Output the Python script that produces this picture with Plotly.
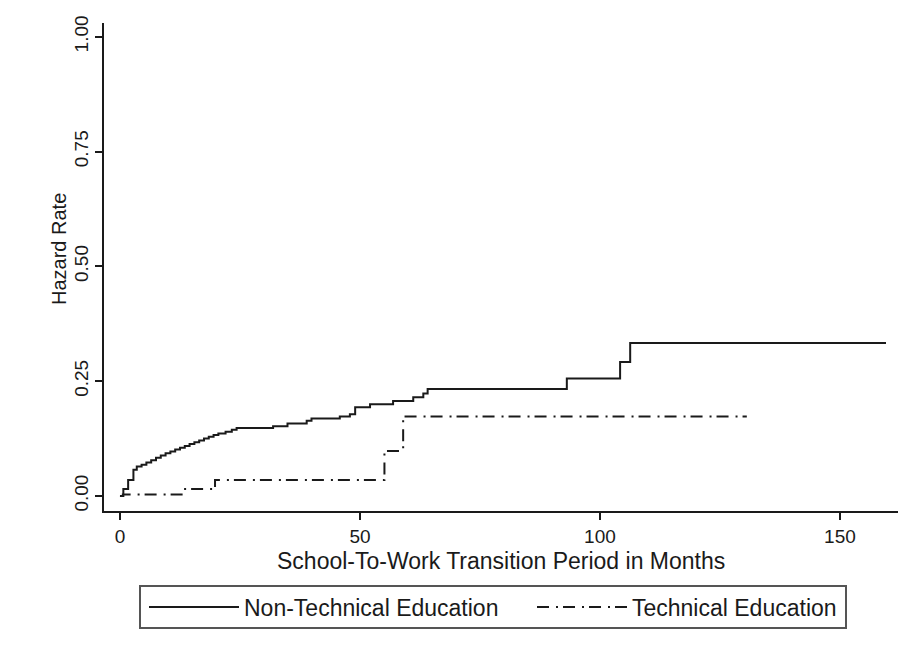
import plotly.graph_objects as go

# Step-function hazard estimates (months, cumulative hazard rate)
nontech_months = [0, 0.7, 1.7, 2.8, 3.5, 4.5, 5.5, 6.5, 7.5, 8.5, 9.5, 10.5, 11.5,
                  12.5, 13.5, 14.5, 15.5, 16.5, 17.5, 18.5, 19.5, 20.5, 22.0, 23.3,
                  24.3, 31.9, 34.9, 38.9, 39.9, 45.8, 47.9, 49.0, 52.1, 56.9, 61.1,
                  63.2, 64.1, 93.1, 104.2, 106.3, 159.6]
nontech_hazard = [0.000, 0.015, 0.035, 0.057, 0.064, 0.068, 0.073, 0.078, 0.083,
                  0.088, 0.093, 0.097, 0.101, 0.105, 0.109, 0.113, 0.117, 0.121,
                  0.125, 0.129, 0.133, 0.136, 0.140, 0.144, 0.148, 0.152, 0.158,
                  0.164, 0.169, 0.173, 0.178, 0.193, 0.200, 0.207, 0.215, 0.223,
                  0.233, 0.256, 0.292, 0.333, 0.333]

tech_months = [0, 0.6, 13.1, 19.8, 55.1, 59.0, 130.6]
tech_hazard = [0.000, 0.003, 0.015, 0.035, 0.098, 0.173, 0.173]

x_ticks = [0, 50, 100, 150]
y_ticks = [0.00, 0.25, 0.50, 0.75, 1.00]
y_tick_text = ["0.00", "0.25", "0.50", "0.75", "1.00"]
x_title = "School-To-Work Transition Period in Months"
y_title = "Hazard Rate"

FONT = "Liberation Sans, Arial, sans-serif"
INK = "#1a1a1a"

# plot area in pixels: x 104..898, y 23..511
PL, PR, PT, PB = 104, 898, 23, 511


def px_x(p):
    return (p - PL) / (PR - PL)


def px_y(p):
    return (PB - p) / (PB - PT)


fig = go.Figure()
fig.add_trace(go.Scatter(
    x=nontech_months, y=nontech_hazard, mode="lines", line_shape="hv",
    name="Non-Technical Education", legend="legend",
    line=dict(color=INK, width=2, dash="solid"),
))
fig.add_trace(go.Scatter(
    x=tech_months, y=tech_hazard, mode="lines", line_shape="hv",
    name="Technical Education", legend="legend2",
    line=dict(color=INK, width=2, dash="12px,7px,2px,5px"),
))

legend_common = dict(
    orientation="h", xanchor="left", yanchor="middle",
    y=px_y(607), bgcolor="rgba(0,0,0,0)", borderwidth=0,
    itemwidth=90, font=dict(family=FONT, size=23, color=INK),
)

fig.update_layout(
    width=912, height=657,
    margin=dict(l=PL, r=912 - PR, t=PT, b=657 - PB, autoexpand=False),
    paper_bgcolor="white", plot_bgcolor="white",
    font=dict(family=FONT, size=22, color=INK),
    showlegend=True,
    legend=dict(x=px_x(144), **legend_common),
    legend2=dict(x=px_x(532), **legend_common),
    shapes=[dict(
        type="rect", xref="paper", yref="paper",
        x0=px_x(140), x1=px_x(846), y0=px_y(586), y1=px_y(628),
        line=dict(color="#555555", width=2), fillcolor="rgba(0,0,0,0)",
        layer="below",
    )],
    annotations=[
        dict(text=x_title, xref="paper", yref="paper",
             x=0.5, y=px_y(561), xanchor="center", yanchor="middle",
             showarrow=False, font=dict(family=FONT, size=23, color=INK)),
        dict(text=y_title, xref="paper", yref="paper", textangle=-90,
             x=px_x(59), y=px_y(249), xanchor="center", yanchor="middle",
             showarrow=False, font=dict(family=FONT, size=20, color=INK)),
    ],
)

fig.update_xaxes(
    range=[-3.33, 162.1],
    tickvals=x_ticks, ticktext=[str(t) for t in x_ticks],
    ticks="outside", ticklen=7, tickwidth=1.5, tickcolor=INK,
    showline=True, linecolor=INK, linewidth=1.5,
    showgrid=False, zeroline=False,
    tickfont=dict(size=19),
)
fig.update_yaxes(
    range=[-0.0327, 1.03],
    tickvals=y_ticks, ticktext=y_tick_text, tickangle=-90,
    ticks="outside", ticklen=7, tickwidth=1.5, tickcolor=INK,
    showline=True, linecolor=INK, linewidth=1.5,
    showgrid=False, zeroline=False,
    tickfont=dict(size=19),
)

fig.write_html("out.html")
